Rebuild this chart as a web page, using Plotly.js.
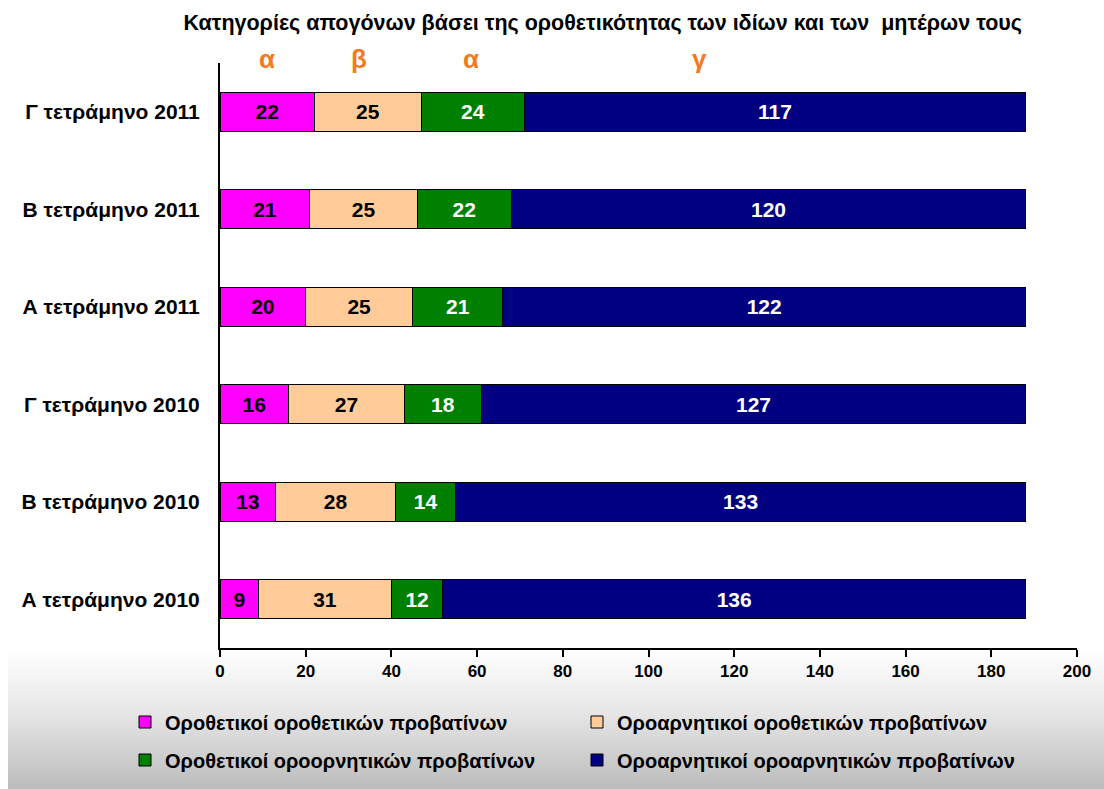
<!DOCTYPE html>
<html>
<head>
<meta charset="utf-8">
<script src="https://cdn.plot.ly/plotly-3.0.1.min.js"></script>
<style>
  html, body { margin: 0; padding: 0; background: #ffffff; }
  #bg { position: absolute; left: 8px; top: 650px; width: 1096px; height: 139px;
        background: linear-gradient(to bottom, #ffffff 0%, #e6e6e6 45%, #bcbcbc 100%); z-index: 0; }
  #chart { position: absolute; left: 0; top: 0; width: 1104px; height: 789px; z-index: 1; }
</style>
</head>
<body>
<div id="bg"></div>
<div id="chart"></div>
<script>
// Categories (bottom to top)
const categories = ['Α τετράμηνο 2010', 'Β τετράμηνο 2010', 'Γ τετράμηνο 2010',
                    'Α τετράμηνο 2011', 'Β τετράμηνο 2011', 'Γ τετράμηνο 2011'];

// Series values
const posPos = [9, 13, 16, 20, 21, 22];        // Οροθετικοί οροθετικών προβατίνων
const negPos = [31, 28, 27, 25, 25, 25];       // Οροαρνητικοί οροθετικών προβατίνων
const posNeg = [12, 14, 18, 21, 22, 24];       // Οροθετικοί οροορνητικών προβατίνων
const negNeg = [136, 133, 127, 122, 120, 117]; // Οροαρνητικοί οροαρνητικών προβατίνων

const seriesNames = ['Οροθετικοί οροθετικών προβατίνων', 'Οροαρνητικοί οροθετικών προβατίνων',
                     'Οροθετικοί οροορνητικών προβατίνων', 'Οροαρνητικοί οροαρνητικών προβατίνων'];

// Group letters above the top bar
const groupLetters = ['α', 'β', 'α', 'γ'];
const groupLetterX = [11, 32.5, 58.5, 112];

const xTicks = [0, 20, 40, 60, 80, 100, 120, 140, 160, 180, 200];

const FONT = '"Liberation Sans", Arial, sans-serif';
const colors = ['#FF00FF', '#FFCC99', '#008000', '#000080'];
const textColors = ['#000000', '#000000', '#ffffff', '#ffffff'];
const legendIds = ['legend', 'legend2', 'legend3', 'legend4'];
const legendPos = [[125, 722], [577, 722], [125, 760], [577, 760]];
const allSeries = [posPos, negPos, posNeg, negNeg];

const traces = allSeries.map((vals, i) => ({
  type: 'bar',
  orientation: 'h',
  y: categories,
  x: vals,
  name: seriesNames[i],
  legend: legendIds[i],
  text: vals.map(String),
  textposition: 'inside',
  insidetextanchor: 'middle',
  constraintext: 'none',
  textfont: { family: FONT, size: 21, color: textColors[i], weight: 'bold' },
  marker: { color: colors[i], line: { color: '#000000', width: 1 } },
  hoverinfo: 'skip'
}));

const annotations = groupLetters.map((t, i) => ({
  x: groupLetterX[i], xref: 'x',
  y: 1.006, yref: 'paper',
  text: t, showarrow: false,
  xanchor: 'center', yanchor: 'middle',
  font: { family: FONT, size: 26, color: '#F47A20', weight: 'bold' }
}));

function legendAt(p) {
  return {
    orientation: 'h',
    xref: 'container', yref: 'container',
    x: p[0] / 1104, xanchor: 'left',
    y: 1 - p[1] / 789, yanchor: 'middle',
    itemwidth: 30,
    bgcolor: 'rgba(0,0,0,0)',
    font: { family: FONT, size: 20, color: '#000000', weight: 'bold' },
    itemclick: false, itemdoubleclick: false
  };
}

const layout = {
  width: 1104, height: 789,
  paper_bgcolor: 'rgba(0,0,0,0)',
  plot_bgcolor: 'rgba(0,0,0,0)',
  barmode: 'stack',
  bargap: 0.6,
  margin: { l: 220, r: 27, t: 63, b: 141 },
  title: {
    text: 'Κατηγορίες απογόνων βάσει της οροθετικότητας των ιδίων και των  μητέρων τους',
    font: { family: FONT, size: 21.5, color: '#000000', weight: 'bold' },
    x: 0.546, xref: 'container', xanchor: 'center',
    y: 0.972, yref: 'container', yanchor: 'middle'
  },
  xaxis: {
    range: [0, 200],
    tickvals: xTicks,
    ticktext: xTicks.map(String),
    ticks: 'outside', ticklen: 7, tickwidth: 2, tickcolor: '#000000',
    showline: true, linecolor: '#000000', linewidth: 2,
    showgrid: false, zeroline: false,
    tickfont: { family: FONT, size: 17, color: '#000000', weight: 'bold' },
    fixedrange: true
  },
  yaxis: {
    type: 'category',
    range: [-0.5, 5.5],
    showline: true, linecolor: '#000000', linewidth: 2,
    showgrid: false, zeroline: false,
    ticks: '',
    ticklabelstandoff: 14,
    tickfont: { family: FONT, size: 21, color: '#000000', weight: 'bold' },
    fixedrange: true
  },
  showlegend: true,
  legend: legendAt(legendPos[0]),
  legend2: legendAt(legendPos[1]),
  legend3: legendAt(legendPos[2]),
  legend4: legendAt(legendPos[3]),
  annotations: annotations
};

Plotly.newPlot('chart', traces, layout, { displayModeBar: false, staticPlot: true });
</script>
</body>
</html>
